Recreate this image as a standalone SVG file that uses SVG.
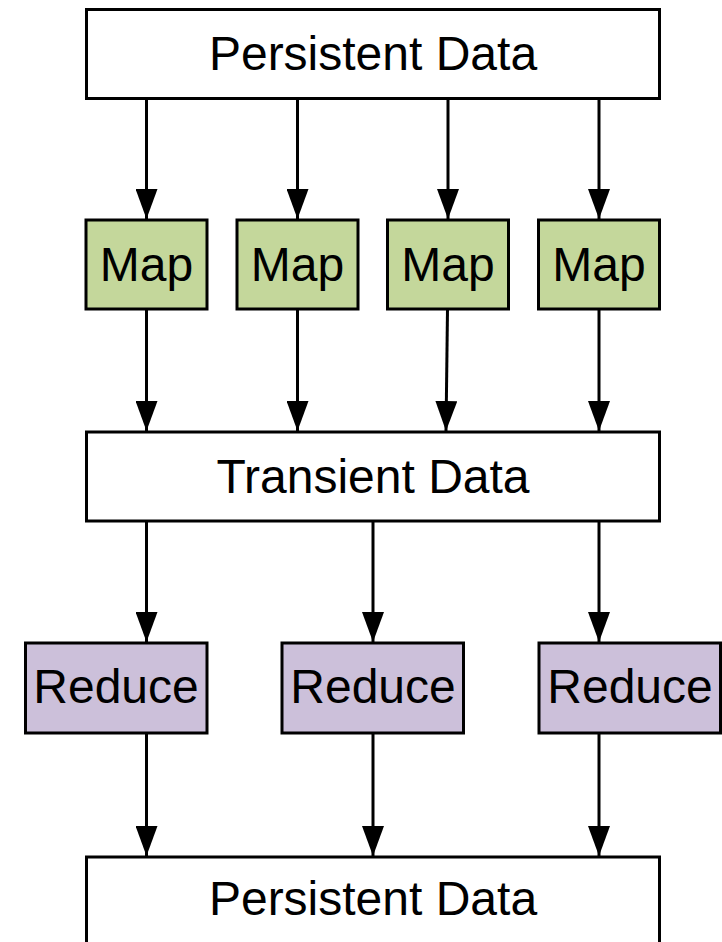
<svg xmlns="http://www.w3.org/2000/svg" width="722" height="942" viewBox="0 0 722 942">
<style>
.box{stroke:#000;stroke-width:3;}
.data{fill:#fff;}
.map{fill:#c4d79b;}
.red{fill:#ccc0da;}
.lbl{font-family:"Liberation Sans",Arial,sans-serif;font-size:48px;fill:#000;text-anchor:middle;}
.edge{stroke:#000;stroke-width:3;fill:none;marker-end:url(#arr);}
</style>
<defs>
<marker id="arr" markerUnits="userSpaceOnUse" markerWidth="30" markerHeight="22" refX="30" refY="11" orient="auto" viewBox="0 0 30 22">
<path d="M0,0 L30,11 L0,22 z" fill="#000"/>
</marker>
</defs>
<rect width="722" height="942" fill="#fff"/>
<g id="connectors">
<line class="edge" x1="146.5" y1="98" x2="146.5" y2="219"/>
<line class="edge" x1="297.5" y1="98" x2="297.5" y2="219"/>
<line class="edge" x1="448" y1="98" x2="448" y2="219"/>
<line class="edge" x1="599" y1="98" x2="599" y2="219"/>
<line class="edge" x1="146.5" y1="309" x2="146.5" y2="431"/>
<line class="edge" x1="297.5" y1="309" x2="297.5" y2="431"/>
<line class="edge" x1="447.5" y1="309" x2="446" y2="431"/>
<line class="edge" x1="599" y1="309" x2="599" y2="431"/>
<line class="edge" x1="146.5" y1="521" x2="146.5" y2="642"/>
<line class="edge" x1="373" y1="521" x2="373" y2="642"/>
<line class="edge" x1="599" y1="521" x2="599" y2="642"/>
<line class="edge" x1="146.5" y1="733" x2="146.5" y2="856"/>
<line class="edge" x1="373" y1="733" x2="373" y2="856"/>
<line class="edge" x1="599" y1="733" x2="599" y2="856"/>
</g>
<g id="persistent-top">
<rect class="box data" x="86.5" y="9.5" width="573" height="89"/>
<text class="lbl" x="373" y="70">Persistent Data</text>
</g>
<g id="map1">
<rect class="box map" x="86" y="220" width="121" height="89"/>
<text class="lbl" x="146.5" y="281">Map</text>
</g>
<g id="map2">
<rect class="box map" x="237" y="220" width="121" height="89"/>
<text class="lbl" x="297.5" y="281">Map</text>
</g>
<g id="map3">
<rect class="box map" x="387.5" y="220" width="121" height="89"/>
<text class="lbl" x="448" y="281">Map</text>
</g>
<g id="map4">
<rect class="box map" x="538.5" y="220" width="121" height="89"/>
<text class="lbl" x="599" y="281">Map</text>
</g>
<g id="transient">
<rect class="box data" x="86.5" y="432" width="573" height="89"/>
<text class="lbl" x="373" y="493">Transient Data</text>
</g>
<g id="reduce1">
<rect class="box red" x="25.5" y="643" width="181.5" height="90"/>
<text class="lbl" x="116" y="703">Reduce</text>
</g>
<g id="reduce2">
<rect class="box red" x="282" y="643" width="181.5" height="90"/>
<text class="lbl" x="373" y="703">Reduce</text>
</g>
<g id="reduce3">
<rect class="box red" x="539" y="643" width="181.5" height="90"/>
<text class="lbl" x="630" y="703">Reduce</text>
</g>
<g id="persistent-bottom">
<rect class="box data" x="86.5" y="857" width="573" height="90"/>
<text class="lbl" x="373" y="915">Persistent Data</text>
</g>
</svg>
